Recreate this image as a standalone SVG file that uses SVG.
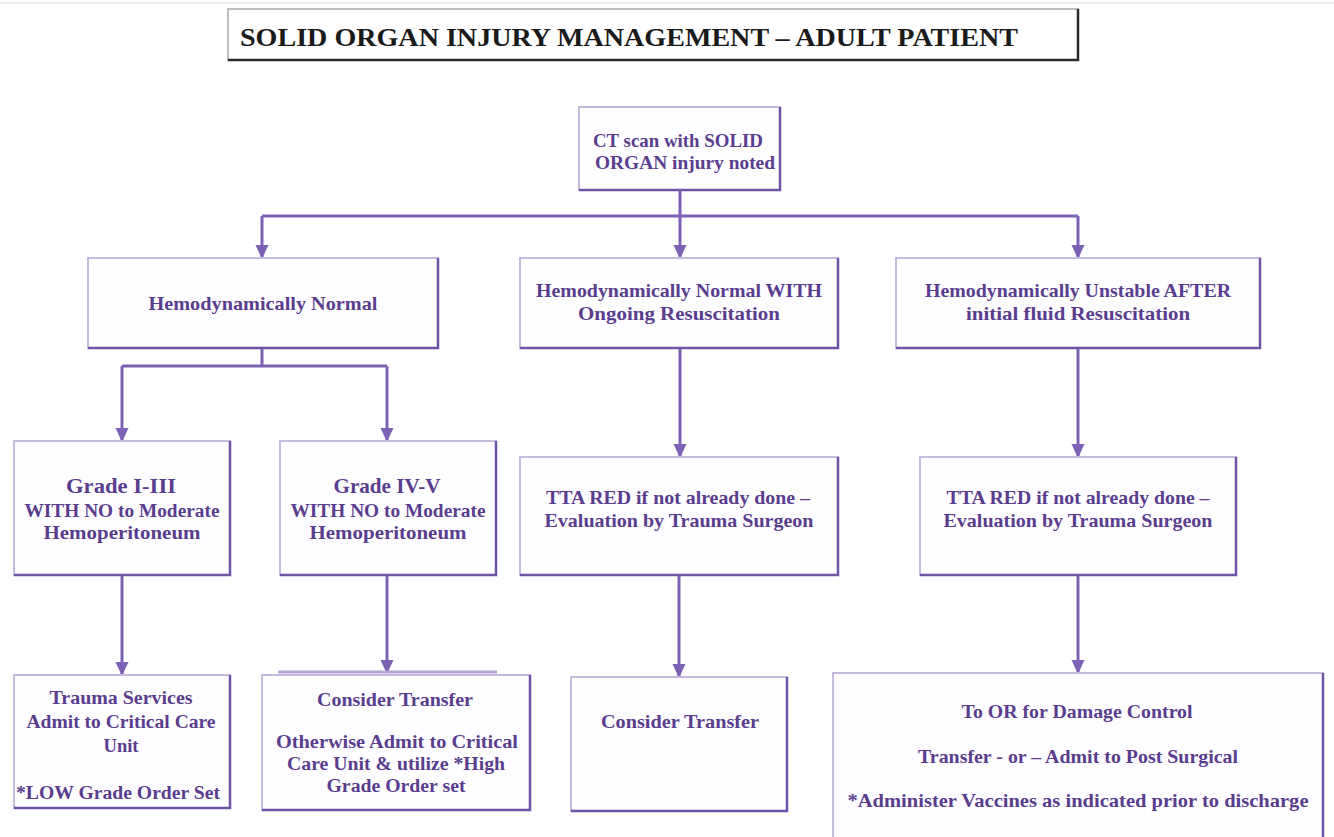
<svg xmlns="http://www.w3.org/2000/svg" width="1334" height="837" viewBox="0 0 1334 837">
<style>
.bg{fill:#ffffff}
.box{fill:#fefdff;stroke:#c6bbdf;stroke-width:2}
.sh{fill:none;stroke:#6e54a6;stroke-width:2.5}
.t{font-family:"Liberation Serif","DejaVu Serif",serif;font-weight:bold;fill:#5a3d8e;text-anchor:middle;font-size:18px}
.n{font-size:19px}
.g{font-size:22px}
.title{font-family:"Liberation Serif","DejaVu Serif",serif;font-weight:bold;fill:#1a1a1a;font-size:25px}
.c{fill:none;stroke:#7c62b4;stroke-width:3}
</style>
<defs>
<marker id="ad" markerUnits="userSpaceOnUse" markerWidth="14" markerHeight="14" refX="7" refY="13" orient="0" viewBox="0 0 14 14">
<path d="M0.5,0 L13.5,0 L7,14 Z" fill="#7c62b4"/>
</marker>
</defs>
<rect class="bg" x="0" y="0" width="1334" height="837"/>
<line x1="0" y1="3" x2="1334" y2="3" stroke="#ececec" stroke-width="2"/>

<g id="title">
<rect x="228" y="9" width="850" height="51" fill="#ffffff" stroke="#bdbdbd" stroke-width="2"/>
<path d="M1078,9 V60 H228" fill="none" stroke="#2a2a2a" stroke-width="2.5"/>
<text class="title" x="240" y="46" textLength="778" lengthAdjust="spacingAndGlyphs">SOLID ORGAN INJURY MANAGEMENT – ADULT PATIENT</text>
</g>

<g id="connectors">
<path class="c" d="M680,190 V216"/>
<path class="c" d="M262,216 H1078"/>
<path class="c" d="M262,216 V258" marker-end="url(#ad)"/>
<path class="c" d="M680,216 V258" marker-end="url(#ad)"/>
<path class="c" d="M1078,216 V258" marker-end="url(#ad)"/>
<path class="c" d="M262,348 V366"/>
<path class="c" d="M122,366 H387"/>
<path class="c" d="M122,366 V441" marker-end="url(#ad)"/>
<path class="c" d="M387,366 V441" marker-end="url(#ad)"/>
<path class="c" d="M680,348 V457" marker-end="url(#ad)"/>
<path class="c" d="M1078,348 V457" marker-end="url(#ad)"/>
<path class="c" d="M122,575 V675" marker-end="url(#ad)"/>
<path class="c" d="M387,575 V673" marker-end="url(#ad)"/>
<path class="c" d="M679,575 V677" marker-end="url(#ad)"/>
<path class="c" d="M1078,575 V673" marker-end="url(#ad)"/>
</g>

<g id="ct">
<rect class="box" x="579" y="107" width="201" height="83"/>
<path class="sh" d="M780,107 V190 H579"/>
<text class="t" x="678" y="147" textLength="170" lengthAdjust="spacingAndGlyphs">CT scan with SOLID</text>
<text class="t" x="685" y="169" textLength="180" lengthAdjust="spacingAndGlyphs">ORGAN injury noted</text>
</g>

<g id="hemo-normal">
<rect class="box" x="88" y="258" width="350" height="90"/>
<path class="sh" d="M438,258 V348 H88"/>
<text class="t n" x="263" y="310" textLength="229" lengthAdjust="spacingAndGlyphs">Hemodynamically Normal</text>
</g>

<g id="hemo-ongoing">
<rect class="box" x="520" y="258" width="318" height="90"/>
<path class="sh" d="M838,258 V348 H520"/>
<text class="t n" x="679" y="297" textLength="286" lengthAdjust="spacingAndGlyphs">Hemodynamically Normal WITH</text>
<text class="t n" x="679" y="320" textLength="202" lengthAdjust="spacingAndGlyphs">Ongoing Resuscitation</text>
</g>

<g id="hemo-unstable">
<rect class="box" x="896" y="258" width="364" height="90"/>
<path class="sh" d="M1260,258 V348 H896"/>
<text class="t n" x="1078" y="297" textLength="306" lengthAdjust="spacingAndGlyphs">Hemodynamically Unstable AFTER</text>
<text class="t n" x="1078" y="320" textLength="224" lengthAdjust="spacingAndGlyphs">initial fluid Resuscitation</text>
</g>

<g id="grade-low">
<rect class="box" x="14" y="441" width="216" height="134"/>
<path class="sh" d="M230,441 V575 H14"/>
<text class="t g" x="121" y="493" textLength="110" lengthAdjust="spacingAndGlyphs">Grade I-III</text>
<text class="t" x="122" y="517" textLength="195" lengthAdjust="spacingAndGlyphs">WITH NO to Moderate</text>
<text class="t" x="122" y="539" textLength="157" lengthAdjust="spacingAndGlyphs">Hemoperitoneum</text>
</g>

<g id="grade-high">
<rect class="box" x="280" y="441" width="216" height="134"/>
<path class="sh" d="M496,441 V575 H280"/>
<text class="t g" x="387" y="493" textLength="107" lengthAdjust="spacingAndGlyphs">Grade IV-V</text>
<text class="t" x="388" y="517" textLength="195" lengthAdjust="spacingAndGlyphs">WITH NO to Moderate</text>
<text class="t" x="388" y="539" textLength="157" lengthAdjust="spacingAndGlyphs">Hemoperitoneum</text>
</g>

<g id="tta-mid">
<rect class="box" x="520" y="457" width="318" height="118"/>
<path class="sh" d="M838,457 V575 H520"/>
<text class="t n" x="678" y="504" textLength="264" lengthAdjust="spacingAndGlyphs">TTA RED if not already done –</text>
<text class="t n" x="679" y="527" textLength="269" lengthAdjust="spacingAndGlyphs">Evaluation by Trauma Surgeon</text>
</g>

<g id="tta-right">
<rect class="box" x="920" y="457" width="316" height="118"/>
<path class="sh" d="M1236,457 V575 H920"/>
<text class="t n" x="1078" y="504" textLength="263" lengthAdjust="spacingAndGlyphs">TTA RED if not already done –</text>
<text class="t n" x="1078" y="527" textLength="269" lengthAdjust="spacingAndGlyphs">Evaluation by Trauma Surgeon</text>
</g>

<g id="trauma-services">
<rect class="box" x="14" y="675" width="216" height="133"/>
<path class="sh" d="M230,675 V808 H14"/>
<text class="t" x="121" y="704" textLength="143" lengthAdjust="spacingAndGlyphs">Trauma Services</text>
<text class="t" x="121" y="728" textLength="189" lengthAdjust="spacingAndGlyphs">Admit to Critical Care</text>
<text class="t" x="121" y="752" textLength="35" lengthAdjust="spacingAndGlyphs">Unit</text>
<text class="t" x="118" y="799" textLength="204" lengthAdjust="spacingAndGlyphs">*LOW Grade Order Set</text>
</g>

<g id="consider-transfer-high">
<line x1="278" y1="672" x2="497" y2="672" stroke="#b3a6d2" stroke-width="3"/>
<rect class="box" x="262" y="675" width="268" height="135"/>
<path class="sh" d="M530,675 V810 H262"/>
<text class="t" x="395" y="706" textLength="156" lengthAdjust="spacingAndGlyphs">Consider Transfer</text>
<text class="t" x="397" y="748" textLength="242" lengthAdjust="spacingAndGlyphs">Otherwise Admit to Critical</text>
<text class="t" x="396" y="770" textLength="218" lengthAdjust="spacingAndGlyphs">Care Unit &amp; utilize *High</text>
<text class="t" x="396" y="792" textLength="139" lengthAdjust="spacingAndGlyphs">Grade Order set</text>
</g>

<g id="consider-transfer-mid">
<rect class="box" x="571" y="677" width="216" height="134"/>
<path class="sh" d="M787,677 V811 H571"/>
<text class="t n" x="680" y="728" textLength="158" lengthAdjust="spacingAndGlyphs">Consider Transfer</text>
</g>

<g id="damage-control">
<rect class="box" x="833" y="673" width="490" height="170"/>
<path class="sh" d="M1323,673 V843"/>
<text class="t n" x="1077" y="718" textLength="231" lengthAdjust="spacingAndGlyphs">To OR for Damage Control</text>
<text class="t n" x="1078" y="763" textLength="320" lengthAdjust="spacingAndGlyphs">Transfer - or – Admit to Post Surgical</text>
<text class="t n" x="1078" y="807" textLength="461" lengthAdjust="spacingAndGlyphs">*Administer Vaccines as indicated  prior to discharge</text>
</g>
</svg>
